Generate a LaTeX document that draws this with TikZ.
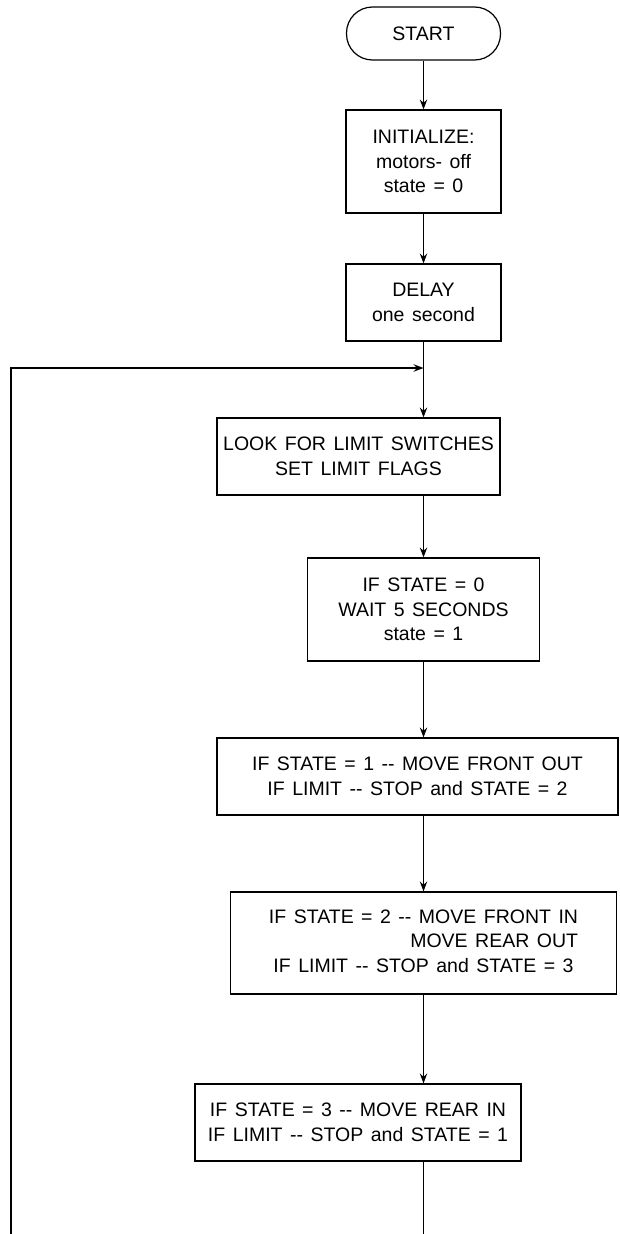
\documentclass[tikz,border=0pt]{standalone}
\usepackage{fontspec}
\setmainfont{Liberation Sans}
\usepackage{tikz}
\usetikzlibrary{shapes,arrows,arrows.meta,positioning}
\newcommand{\boxfont}{\fontsize{19.5}{24.5}\selectfont\spaceskip=7.5pt plus 1pt minus 1pt\relax}

\begin{document}
\begin{tikzpicture}[
    x=1pt, y=-1pt,
    line width=1.2pt,
    mybox/.style={draw, rectangle, inner sep=0pt, align=center, font=\boxfont},
    myterm/.style={mybox, rounded corners=26pt},
    myedge/.style={->, >={Stealth[length=10pt, width=7.5pt, inset=3.5pt]}}
]
\useasboundingbox (0,0) rectangle (619,1234);

\node[myterm, minimum width=154pt, minimum height=53pt] (start) at (423.5,33.5) {START};
\node[mybox, minimum width=155pt, minimum height=103pt] (init) at (423.5,161.5) {INITIALIZE:\\ motors- off\\ state = 0};
\node[mybox, minimum width=155pt, minimum height=77pt] (delay) at (423.5,302.5) {DELAY\\ one second};
\node[mybox, minimum width=283pt, minimum height=77pt] (look) at (358.5,456.5) {LOOK FOR LIMIT SWITCHES\\ SET LIMIT FLAGS};
\node[mybox, minimum width=232pt, minimum height=103pt] (wait) at (423.5,609.5) {IF STATE = 0\\ WAIT 5 SECONDS\\ state = 1};
\node[mybox, minimum width=401pt, minimum height=77pt] (frontout) at (417.5,776.5) {IF STATE = 1 -{}- MOVE FRONT OUT\\ IF LIMIT -{}- STOP and STATE = 2};
\node[mybox, minimum width=386pt, minimum height=102pt] (frontin) at (423.5,943) {\begin{tabular}{@{}c@{}}
    IF STATE = 2 -{}- MOVE FRONT IN\\
    \hfill MOVE REAR OUT\\
    IF LIMIT -{}- STOP and STATE = 3
  \end{tabular}};
\node[mybox, minimum width=326pt, minimum height=77pt] (rearin) at (358,1122.5) {IF STATE = 3 -{}- MOVE REAR IN\\ IF LIMIT -{}- STOP and STATE = 1};

\coordinate (join) at (423.5,368);
\coordinate (loopbot) at (11,1234);
\coordinate (endbot) at (423.5,1234);

\draw[myedge] (start) -- (init);
\draw[myedge] (init) -- (delay);
\draw (delay) -- (join);
\draw[myedge] (join) -- (join |- look.north);
\draw[myedge] (join |- look.south) -- (wait);
\draw[myedge] (wait) -- (wait.south |- frontout.north);
\draw[myedge] (join |- frontout.south) -- (frontin);
\draw[myedge] (frontin) -- (frontin.south |- rearin.north);
\draw (join |- rearin.south) -- (endbot);
\draw[myedge] (loopbot) |- (join);
\end{tikzpicture}
\end{document}
